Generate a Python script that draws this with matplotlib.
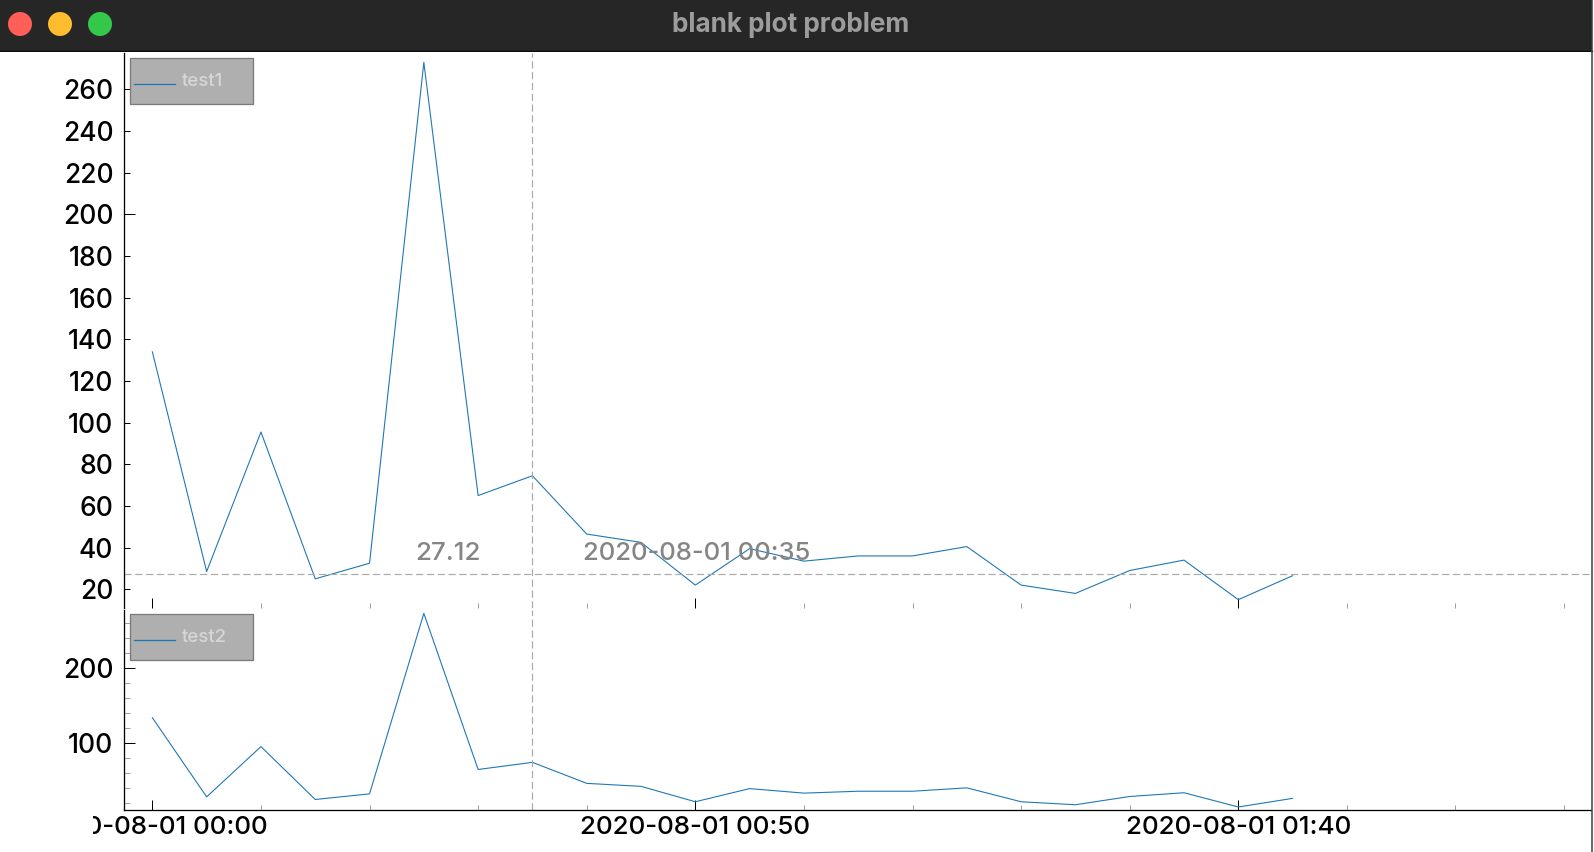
import matplotlib
matplotlib.use("Agg")
import matplotlib.pyplot as plt
import matplotlib.dates as mdates
import matplotlib.ticker as mticker
from matplotlib.patches import Rectangle, Circle
from matplotlib.lines import Line2D
from matplotlib.transforms import Bbox
from datetime import datetime

# ---------------- data ----------------
times = ["2020-08-01 00:00", "2020-08-01 00:05", "2020-08-01 00:10", "2020-08-01 00:15",
         "2020-08-01 00:20", "2020-08-01 00:25", "2020-08-01 00:30", "2020-08-01 00:35",
         "2020-08-01 00:40", "2020-08-01 00:45", "2020-08-01 00:50", "2020-08-01 00:55",
         "2020-08-01 01:00", "2020-08-01 01:05", "2020-08-01 01:10", "2020-08-01 01:15",
         "2020-08-01 01:20", "2020-08-01 01:25", "2020-08-01 01:30", "2020-08-01 01:35",
         "2020-08-01 01:40", "2020-08-01 01:45"]
test1_values = [134, 28.5, 95.5, 25, 32.5, 273, 65, 74.5, 46.5, 42.5, 22, 39.5,
                33.5, 36, 36, 40.5, 22, 18, 29, 34, 15, 26.5]
test2_values = [134, 28.5, 95.5, 25, 32.5, 273, 65, 74.5, 46.5, 42.5, 22, 39.5,
                33.5, 36, 36, 40.5, 22, 18, 29, 34, 15, 26.5]
series_names = ["test1", "test2"]
cross_time = "2020-08-01 00:35"
cross_value = 27.12
x_major_ticks = ["2020-08-01 00:00", "2020-08-01 00:50", "2020-08-01 01:40"]
x_minor_ticks = ["2020-08-01 00:10", "2020-08-01 00:20", "2020-08-01 00:30", "2020-08-01 00:40",
                 "2020-08-01 01:00", "2020-08-01 01:10", "2020-08-01 01:20", "2020-08-01 01:30",
                 "2020-08-01 01:50", "2020-08-01 02:00", "2020-08-01 02:10"]
x_range = ["2020-07-31 23:57:25", "2020-08-01 02:12:26"]
top_yticks = [20, 40, 60, 80, 100, 120, 140, 160, 180, 200, 220, 240, 260]
top_major_y = [200]
bottom_major_y = [100, 200]
bottom_minor_y = [20, 40, 60, 80, 120, 140, 160, 180, 220, 240, 260]
y_range = [11.0, 277.5]
window_title = "blank plot problem"

# ---------------- figure ----------------
W, H = 1594, 852
DPI = 100
fig = plt.figure(figsize=(W / DPI, H / DPI), dpi=DPI, facecolor="white")
plt.rcParams["font.family"] = ["Inter", "DejaVu Sans"]

def px(x0, y0, x1, y1):
    """pixel box (top-left origin) -> figure fraction rect"""
    return [x0 / W, (H - y1) / H, (x1 - x0) / W, (y1 - y0) / H]

LINE_COLOR = "#1f77b4"
TICK_GRAY = "#a0a0a0"
DASH_GRAY = "#aaaaaa"
PT = 72.0 / DPI  # points per pixel
LABEL_WEIGHT = "medium"

t = [datetime.strptime(s, "%Y-%m-%d %H:%M") for s in times]
xr = [datetime.strptime(s, "%Y-%m-%d %H:%M:%S") for s in x_range]
xmaj = [datetime.strptime(s, "%Y-%m-%d %H:%M") for s in x_major_ticks]
xmin_ = [datetime.strptime(s, "%Y-%m-%d %H:%M") for s in x_minor_ticks]
tc = datetime.strptime(cross_time, "%Y-%m-%d %H:%M")

ax1 = fig.add_axes(px(124.3, 53, 1590.5, 608))
ax2 = fig.add_axes(px(124.3, 610, 1590.5, 810))

for ax, vals in ((ax1, test1_values), (ax2, test2_values)):
    ax.plot(t, vals, color=LINE_COLOR, lw=1.1 * PT)
    ax.set_xlim(xr[0], xr[1])
    ax.set_ylim(y_range[0], y_range[1])
    ax.set_facecolor("none")
    for s in ("top", "right"):
        ax.spines[s].set_visible(False)
    ax.spines["left"].set_linewidth(1.3 * PT)
    ax.spines["left"].set_color("black")
    ax.axvline(tc, color=DASH_GRAY, lw=1.2 * PT, dashes=(6, 3))
    ax.xaxis.set_major_locator(mticker.FixedLocator(mdates.date2num(xmaj)))
    ax.xaxis.set_minor_locator(mticker.FixedLocator(mdates.date2num(xmin_)))
    ax.xaxis.set_major_formatter(mdates.DateFormatter("%Y-%m-%d %H:%M"))
    ax.tick_params(axis="both", which="both", direction="in", width=1.0 * PT)
    ax.tick_params(axis="x", which="major", length=10 * PT, color="black")
    ax.tick_params(axis="x", which="minor", length=5 * PT, color=TICK_GRAY)
    ax.tick_params(axis="y", which="major", length=11 * PT, color="black")
    ax.tick_params(axis="y", which="minor", length=6 * PT, color=TICK_GRAY)
    ax.tick_params(axis="y", which="both", labelsize=19, pad=11 * PT, labelcolor="black")

# top plot: no bottom spine, no x labels
ax1.spines["bottom"].set_visible(False)
ax1.tick_params(axis="x", which="both", labelbottom=False)
ax1.axhline(cross_value, color=DASH_GRAY, lw=1.2 * PT, dashes=(6, 3))
ax1.set_yticks(top_yticks)
ax1.set_yticklabels([str(v) for v in top_yticks])
for v, tk in zip(top_yticks, ax1.yaxis.get_major_ticks()):
    if v not in top_major_y:
        tk.tick1line.set_markersize(6 * PT)
        tk.tick1line.set_color(TICK_GRAY)

# bottom plot
ax2.spines["bottom"].set_linewidth(1.3 * PT)
ax2.spines["bottom"].set_color("black")
ax2.set_yticks(bottom_major_y)
ax2.set_yticks(bottom_minor_y, minor=True)
ax2.set_yticklabels([str(v) for v in bottom_major_y])
ax2.tick_params(axis="x", which="major", labelsize=18.7, pad=4, labelcolor="black")

for ax in (ax1, ax2):
    for lab in ax.get_yticklabels() + ax.get_xticklabels():
        lab.set_fontweight(LABEL_WEIGHT)

# crosshair labels
ax1.annotate(f"{cross_value:.2f}", xy=(tc, cross_value), xytext=(-52, 14),
             textcoords="offset pixels", ha="right", va="baseline",
             fontsize=18.7, color="#858585", fontweight=LABEL_WEIGHT)
ax1.annotate(tc.strftime("%Y-%m-%d %H:%M"), xy=(tc, cross_value), xytext=(51, 14),
             textcoords="offset pixels", ha="left", va="baseline",
             fontsize=18.5, color="#858585", fontweight=LABEL_WEIGHT)

# legends (pyqtgraph style boxes)
def draw_legend(y0, name):
    fig.patches.append(Rectangle(((130.3) / W, (H - y0 - 46) / H), 122.4 / W, 46 / H,
                                 transform=fig.transFigure, facecolor="#afafaf",
                                 edgecolor="#7a7a7a", lw=1.3 * PT, zorder=5))
    ly = (H - y0 - 25.7) / H
    fig.lines.append(Line2D([134 / W, 175 / W], [ly, ly], transform=fig.transFigure,
                            color=LINE_COLOR, lw=1.3 * PT, zorder=6))
    fig.text(182.3 / W, (H - y0 - 23) / H, name, fontsize=13.5, color="#d6d6d6",
             va="center", ha="left", zorder=6, fontweight="medium")

draw_legend(58.3, series_names[0])
draw_legend(614.3, series_names[1])

# window title bar
tb = fig.add_axes(px(0, 0, W, 52))
tb.set_xlim(0, W)
tb.set_ylim(52, 0)
tb.axis("off")
tb.add_patch(Rectangle((0, 0), 1592, 52, facecolor="#262626", edgecolor="none"))
tb.plot([0, 1592], [51.3, 51.3], color="#0c0c0c", lw=1.4 * PT)
for cx, col in ((20, "#ff5f57"), (60, "#febc2e"), (100, "#34c84a")):
    tb.add_patch(Circle((cx, 24), 12, facecolor=col, edgecolor="none"))
tb.text(791, 25, window_title, ha="center", va="center", fontsize=18.8,
        fontweight="bold", color="#9c9c9c")

# right window border
fig.lines.append(Line2D([1591.5 / W, 1591.5 / W], [0, 1], transform=fig.transFigure,
                        color="#3a3a3a", lw=1.5 * PT))

# clip the leftmost x tick label like the original window
fig.canvas.draw()
clip = Bbox([[92.5, 0], [W, H]])
for lab in ax2.get_xticklabels():
    lab.set_clip_box(clip)
    lab.set_clip_on(True)

fig.savefig("out.png", dpi=DPI, facecolor="white")
